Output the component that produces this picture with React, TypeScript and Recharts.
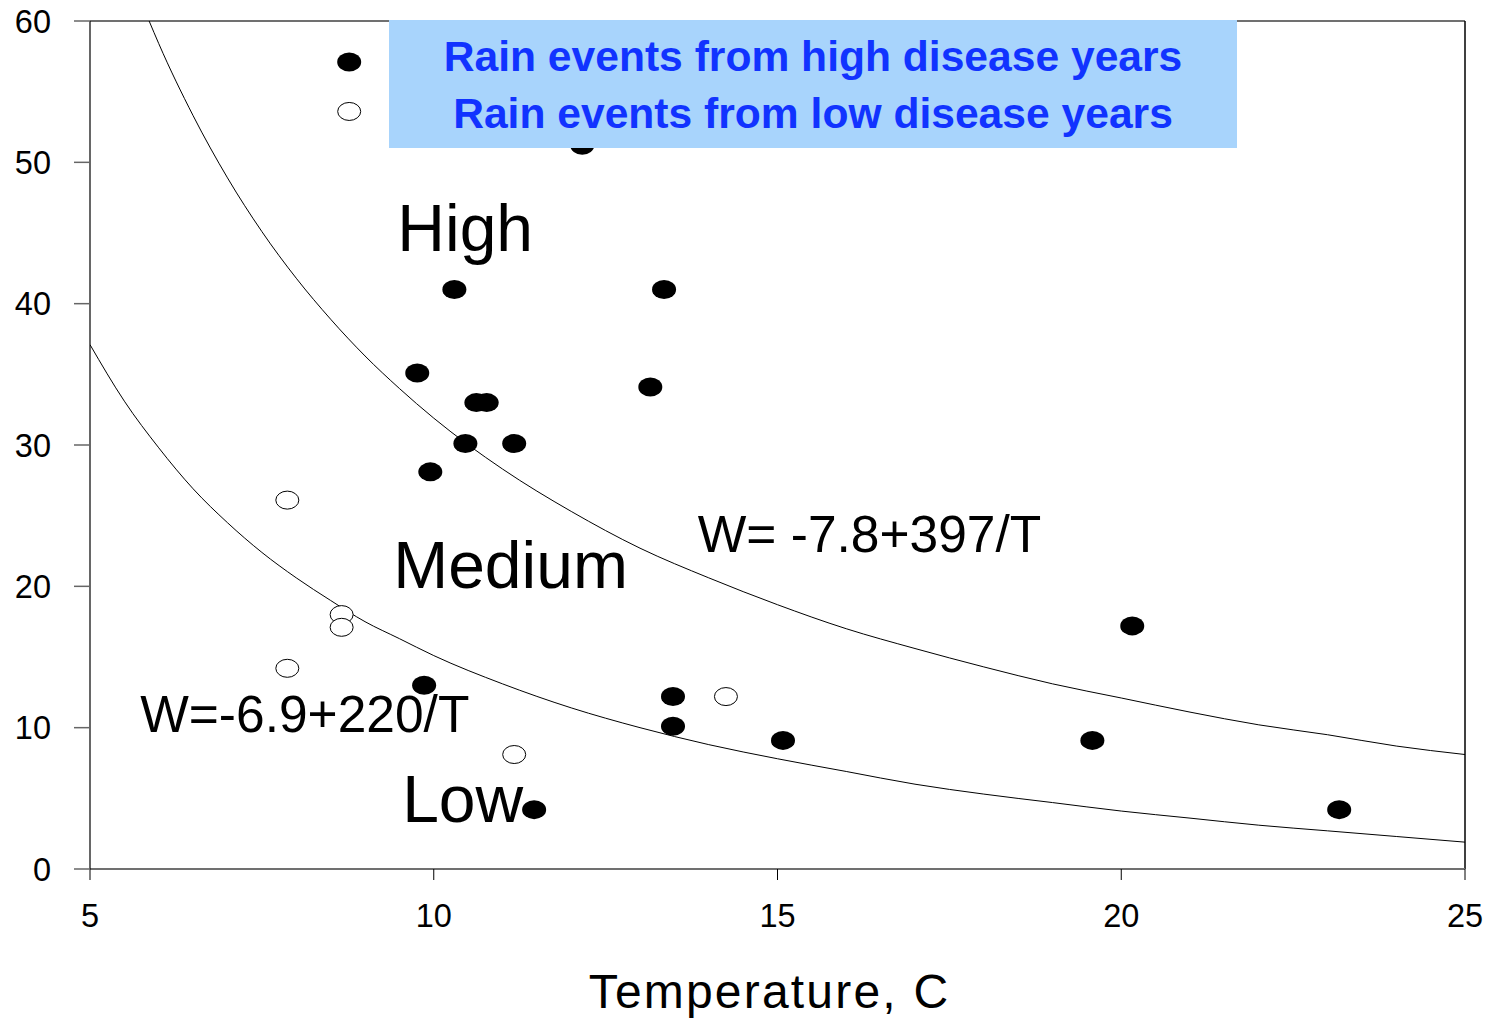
import {
  ComposedChart,
  Scatter,
  Line,
  XAxis,
  YAxis,
  ReferenceLine,
  Legend,
  Label,
} from 'recharts'

const FONT = '"Liberation Sans", Arial, Helvetica, sans-serif'

const xTicks = [5, 10, 15, 20, 25]
const yTicks = [0, 10, 20, 30, 40, 50, 60]

const highName = 'Rain events from high disease years'
const lowName = 'Rain events from low disease years'

// rain events, temperature (C) vs wetness (W)
const highT = [8.77, 12.16, 10.3, 13.35, 9.76, 13.15, 10.62, 10.77, 10.46, 11.17, 9.95, 20.16, 9.86, 13.48, 13.48, 15.08, 19.58, 11.46, 23.17]
const highW = [57.1, 51.2, 41.0, 41.0, 35.1, 34.1, 33.0, 33.0, 30.1, 30.1, 28.1, 17.2, 13.0, 12.2, 10.1, 9.1, 9.1, 4.2, 4.2]
const lowT = [8.77, 7.87, 8.66, 8.66, 7.87, 14.25, 11.17]
const lowW = [53.6, 26.1, 18.0, 17.1, 14.2, 12.2, 8.1]

// threshold curves
const upperCurveT = [5.86, 6, 6.5, 7, 7.5, 8, 8.5, 9, 9.5, 10, 11, 12, 13, 14, 15, 16, 17, 18, 19, 20, 21, 22, 23, 24, 25]
const upperCurveW = [60, 58.4, 53.3, 48.9, 45.1, 41.8, 38.9, 36.3, 34.0, 31.9, 28.3, 25.3, 22.7, 20.6, 18.7, 17.0, 15.6, 14.3, 13.1, 12.1, 11.1, 10.2, 9.5, 8.7, 8.1]
const lowerCurveT = [5, 5.5, 6, 6.5, 7, 7.5, 8, 8.5, 9, 9.5, 10, 11, 12, 13, 14, 15, 16, 17, 18, 19, 20, 21, 22, 23, 24, 25]
const lowerCurveW = [37.1, 33.1, 29.8, 26.9, 24.5, 22.4, 20.6, 19.0, 17.5, 16.3, 15.1, 13.1, 11.4, 10.0, 8.8, 7.8, 6.9, 6.0, 5.3, 4.7, 4.1, 3.6, 3.1, 2.7, 2.3, 1.9]

// text annotations anchored in data coordinates
const zoneLabels = ['High', 'Medium', 'Low']
const zoneT = [9.47, 9.41, 9.54]
const zoneW = [43.7, 19.9, 3.3]
const eqLabels = ['W= -7.8+397/T', 'W=-6.9+220/T']
const eqT = [13.84, 5.73]
const eqW = [22.4, 9.7]

const toPoints = (xs: number[], ys: number[]) => xs.map((x, i) => ({ x, y: ys[i] }))

const highData = toPoints(highT, highW)
const lowData = toPoints(lowT, lowW)
const upperCurve = toPoints(upperCurveT, upperCurveW)
const lowerCurve = toPoints(lowerCurveT, lowerCurveW)
const zoneData = zoneLabels.map((label, i) => ({ x: zoneT[i], y: zoneW[i], label }))
const eqData = eqLabels.map((label, i) => ({ x: eqT[i], y: eqW[i], label }))

const FilledDot = (props: any) => (
  <ellipse cx={props.cx} cy={props.cy} rx={12} ry={9.5} fill="#000" />
)

const OpenDot = (props: any) => (
  <ellipse cx={props.cx} cy={props.cy} rx={11.5} ry={9} fill="#fff" stroke="#000" strokeWidth={1} />
)

const zoneText = (props: any) => (
  <text x={props.cx} y={props.cy} fontSize={66} fontFamily={FONT} fill="#000">
    {props.payload.label}
  </text>
)

const eqText = (props: any) => (
  <text x={props.cx} y={props.cy} fontSize={51.5} fontFamily={FONT} fill="#000">
    {props.payload.label}
  </text>
)

const legendBox = () => (
  <div
    style={{
      width: 848,
      height: 128,
      boxSizing: 'border-box',
      paddingTop: 8,
      background: '#a8d4fc',
      color: '#1133ff',
      fontFamily: FONT,
      fontWeight: 'bold',
      fontSize: 42.6,
      lineHeight: '57px',
      textAlign: 'center',
      whiteSpace: 'nowrap',
    }}
  >
    <div>{highName}</div>
    <div>{lowName}</div>
  </div>
)

export default function App() {
  return (
    <div style={{ position: 'absolute', left: 0, top: 0, background: '#fff' }}>
      <ComposedChart
        width={1490}
        height={1018}
        margin={{ top: 21, right: 25, left: 0, bottom: 0 }}
      >
        <XAxis
          type="number"
          dataKey="x"
          domain={[5, 25]}
          ticks={xTicks}
          allowDataOverflow
          height={149}
          tickSize={11}
          tickMargin={24}
          axisLine={{ stroke: '#707070', strokeWidth: 2 }}
          tickLine={{ stroke: '#000', strokeWidth: 1 }}
          tick={{ fill: '#000', fontSize: 32.5, fontFamily: FONT }}
        >
          <Label
            value="Temperature, C"
            position="insideBottom"
            offset={10}
            dx={-8}
            fill="#000"
            fontSize={48}
            fontFamily={FONT}
            letterSpacing={2.2}
          />
        </XAxis>
        <YAxis
          type="number"
          dataKey="y"
          domain={[0, 60]}
          ticks={yTicks}
          allowDataOverflow
          width={90}
          tickSize={16}
          tickMargin={23}
          axisLine={{ stroke: '#000', strokeWidth: 1.2 }}
          tickLine={{ stroke: '#666', strokeWidth: 1.5 }}
          tick={{ fill: '#000', fontSize: 32.5, fontFamily: FONT }}
        />
        <ReferenceLine y={60} stroke="#707070" strokeWidth={2} />
        <ReferenceLine x={25} stroke="#000" strokeWidth={1.5} />
        <Scatter name={highName} data={highData} shape={FilledDot} isAnimationActive={false} />
        <Scatter name={lowName} data={lowData} shape={OpenDot} isAnimationActive={false} />
        <Line
          data={upperCurve}
          dataKey="y"
          type="monotone"
          stroke="#000"
          strokeWidth={1}
          dot={false}
          activeDot={false}
          legendType="none"
          isAnimationActive={false}
        />
        <Line
          data={lowerCurve}
          dataKey="y"
          type="monotone"
          stroke="#000"
          strokeWidth={1}
          dot={false}
          activeDot={false}
          legendType="none"
          isAnimationActive={false}
        />
        <Scatter data={zoneData} shape={zoneText} legendType="none" isAnimationActive={false} />
        <Scatter data={eqData} shape={eqText} legendType="none" isAnimationActive={false} />
        <Legend
          layout="horizontal"
          verticalAlign="middle"
          align="center"
          content={legendBox}
          wrapperStyle={{ left: 389, top: 20, width: 848, height: 128 }}
        />
      </ComposedChart>
    </div>
  )
}
